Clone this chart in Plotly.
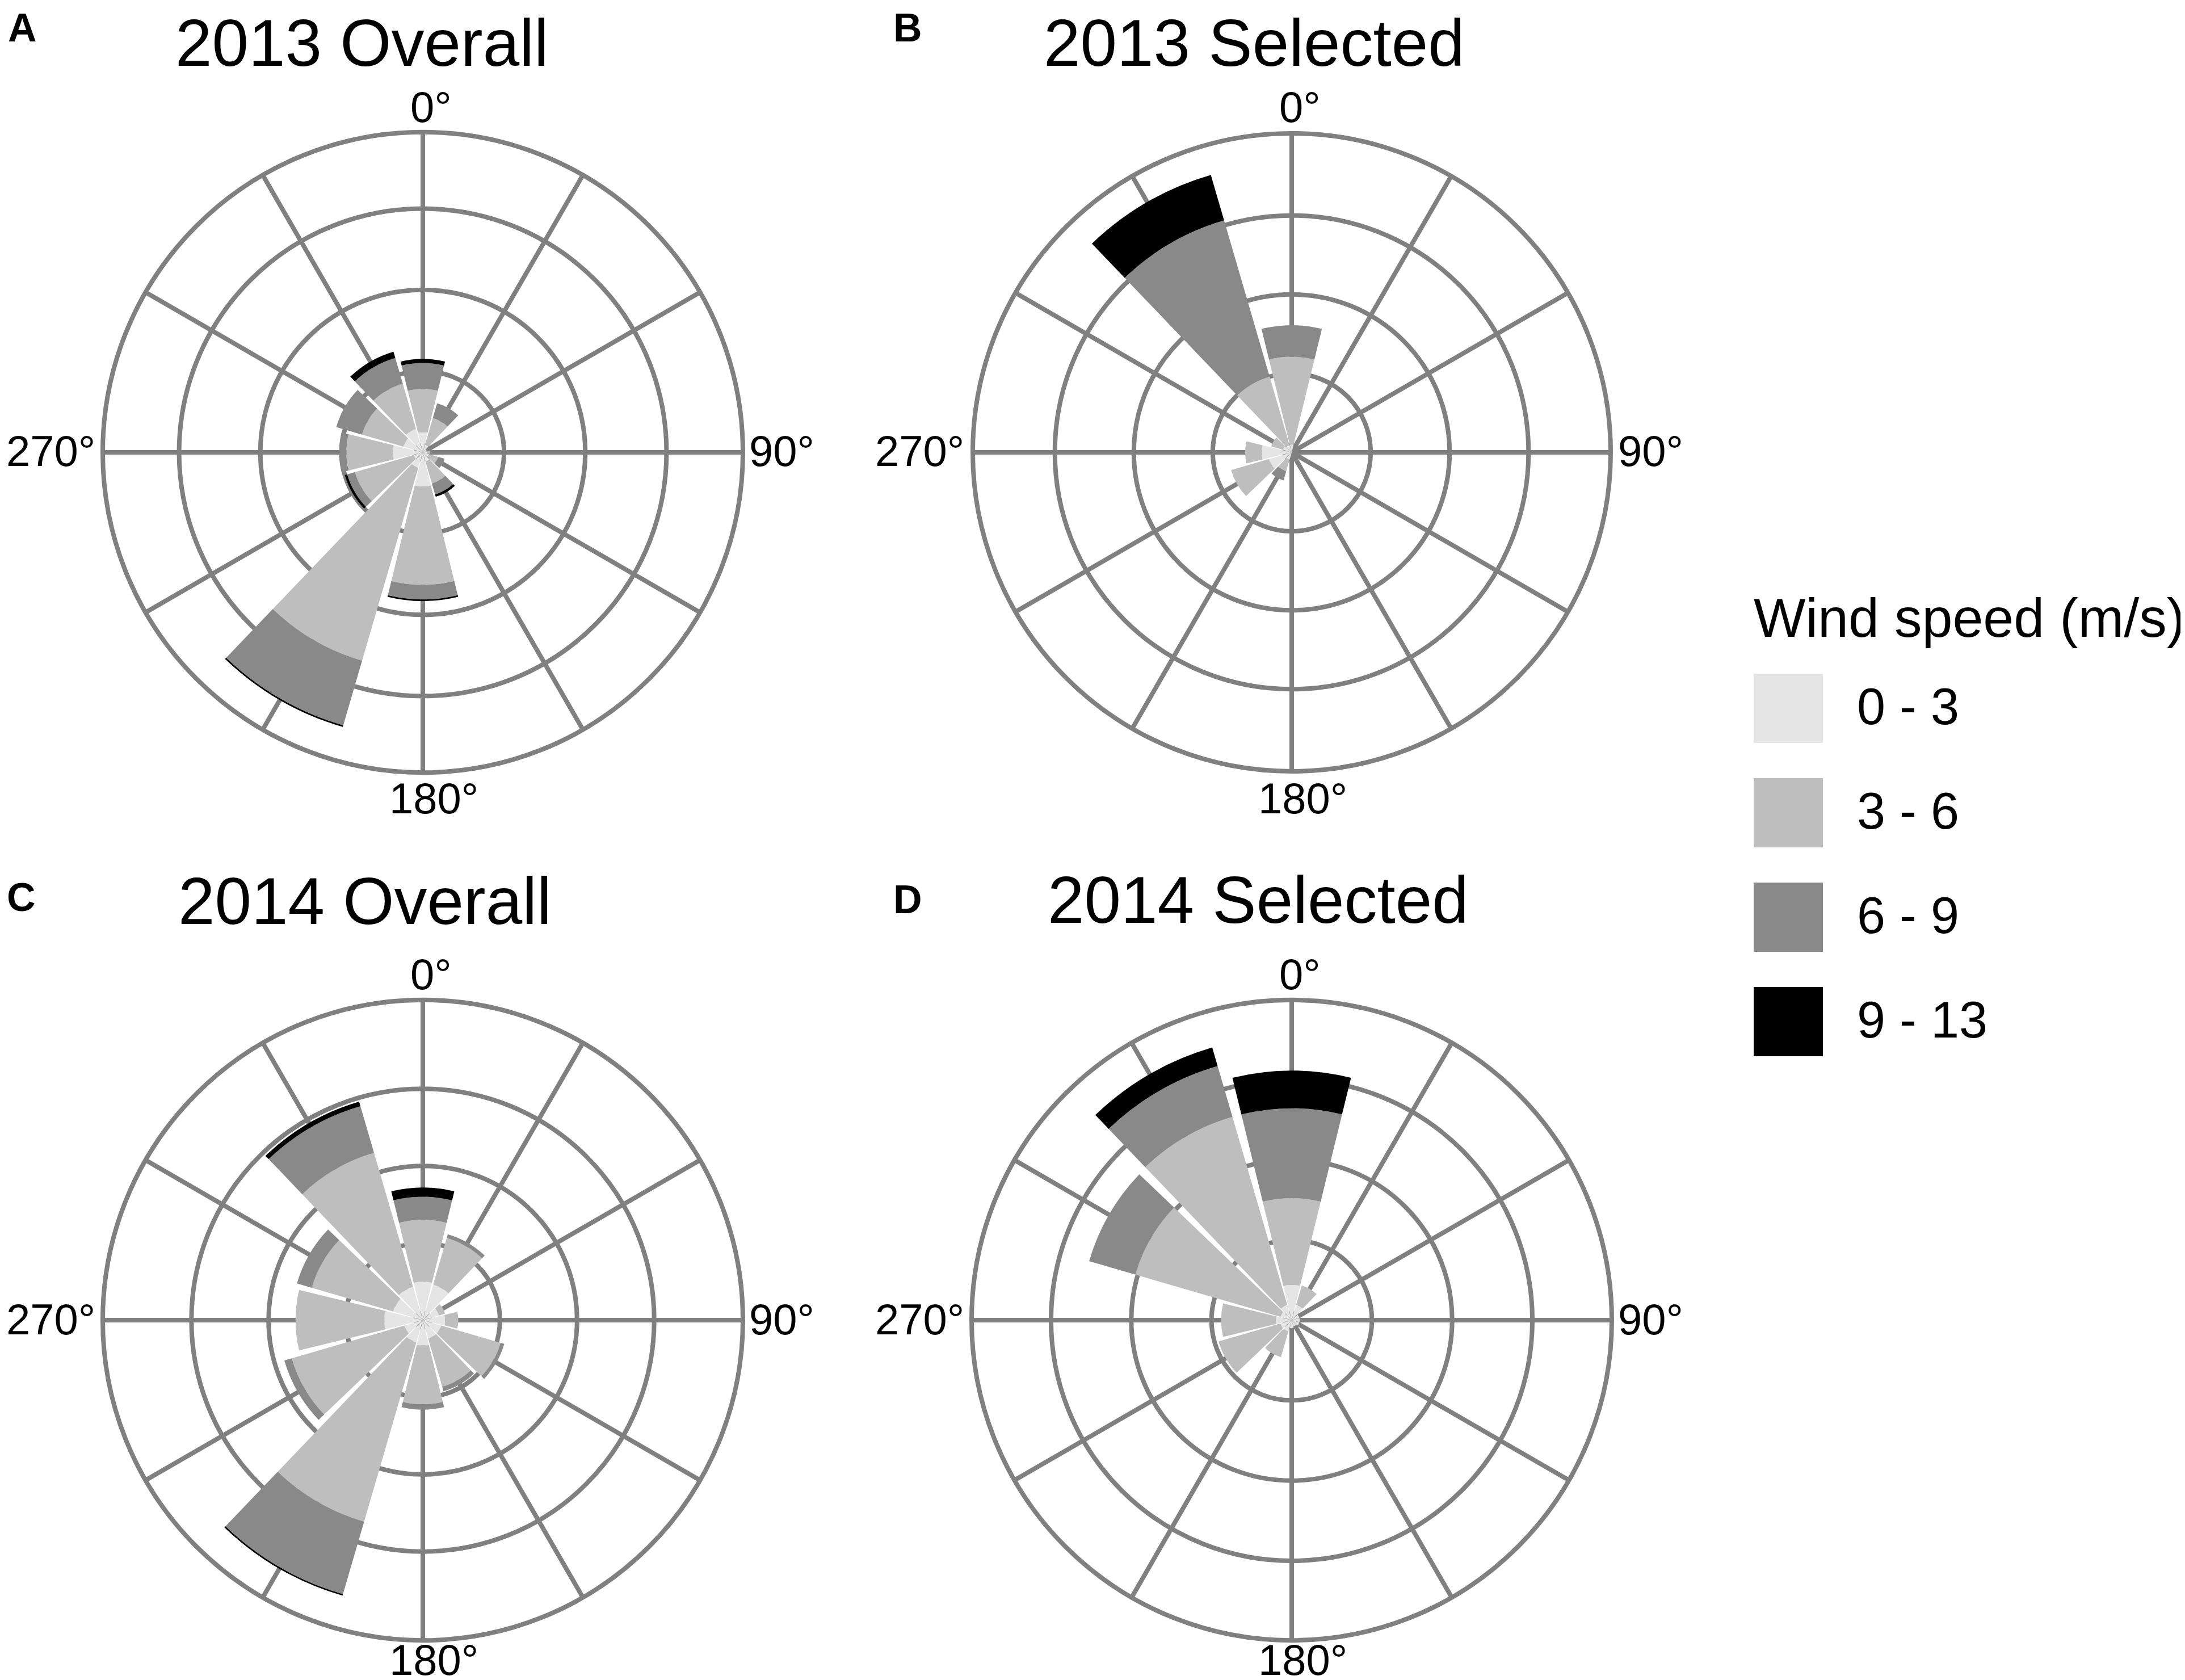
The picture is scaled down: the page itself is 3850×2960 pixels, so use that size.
import plotly.graph_objects as go

W, H = 3850, 2960
FONT = "Liberation Sans, Arial, sans-serif"
GRID = "#808080"

# wind direction bins (degrees, centre of each 30 degree sector)
directions = [0, 30, 60, 90, 120, 150, 180, 210, 240, 270, 300, 330]
angle_labels = ["0°", "", "", "90°", "", "", "180°", "", "", "270°", "", ""]
speed_bins = ["0 - 3", "3 - 6", "6 - 9", "9 - 13"]
bin_colors = ["#e5e5e5", "#bebebe", "#898989", "#000000"]
ring_values = [5, 10, 15]

# frequency (%) per direction, one row per speed bin (0-3, 3-6, 6-9, 9-13)
overall_2013 = [
    [1.25, 0.5, 0.25, 0.25, 0.4, 0.6, 2.1, 1.0, 0.6, 1.85, 1.25, 1.5],
    [2.65, 1.7, 0, 0.2, 0.6, 1.4, 6.05, 12.35, 3.75, 2.85, 2.65, 2.9],
    [1.6, 0.95, 0, 0.15, 0.4, 0.7, 0.9, 4.15, 0.5, 0.45, 1.65, 1.65],
    [0.25, 0, 0, 0, 0, 0.15, 0.1, 0.1, 0.15, 0, 0, 0.4],
]
selected_2013 = [
    [0.5, 0, 0, 0, 0, 0, 0, 0.5, 1.5, 1.9, 0.6, 0.5],
    [5.55, 0, 0, 0, 0, 0, 0, 0.75, 2.5, 1.05, 0.75, 4.5],
    [2.0, 0, 0, 0, 0, 0, 0, 0.6, 0, 0, 0, 10.3],
    [0, 0, 0, 0, 0, 0, 0, 0, 0, 0, 0, 3.0],
]
overall_2014 = [
    [2.5, 2.4, 1.1, 1.45, 1.25, 1.25, 1.65, 1.5, 1.25, 2.5, 2.0, 2.25],
    [4.0, 3.15, 0.4, 0.85, 4.0, 3.25, 3.8, 12.1, 7.6, 5.75, 5.5, 9.05],
    [1.5, 0.25, 0, 0, 0.25, 0.3, 0.35, 4.9, 0.5, 0, 1.0, 3.15],
    [0.6, 0, 0, 0, 0, 0, 0, 0.1, 0, 0, 0, 0.3],
]
selected_2014 = [
    [2.2, 1.0, 0.5, 0.5, 0.5, 0.4, 0.5, 0.75, 0.75, 1.0, 0.75, 1.0],
    [5.4, 1.25, 0, 0, 0, 0, 0, 1.65, 4.0, 3.4, 9.4, 12.2],
    [5.6, 0, 0, 0, 0, 0, 0, 0, 0, 0, 3.0, 3.3],
    [2.35, 0, 0, 0, 0, 0, 0, 0, 0, 0, 0, 1.2],
]

# letter, title, data, radial max, (centre x, centre y, radius px), title pos, letter pos
panels = [
    ("A", "2013 Overall", overall_2013, 19.7, (737, 789, 564), (630, 68), (31, 41)),
    ("B", "2013 Selected", selected_2013, 20.2, (2268, 789, 562), (2202, 68), (1591, 41)),
    ("C", "2014 Overall", overall_2014, 20.75, (737, 2318, 564), (635, 1580), (29, 1573)),
    ("D", "2014 Selected", selected_2014, 19.95, (2268, 2318, 564), (2209, 1578), (1591, 1577)),
]

# where the angle labels sit relative to the circle centre (px), and their anchor
label_offsets = {0: (14, -609, "center"), 90: (573, -2, "left"),
                 180: (19, 609, "center"), 270: (-575, -2, "right")}


def px_x(v):
    return v / W


def px_y(v):
    return 1 - v / H


fig = go.Figure()
layout = {}
annotations = []

for i, (letter, title, data, rmax, (cx, cy, rad), (tx, ty), (lx, ly)) in enumerate(panels):
    subplot = "polar" if i == 0 else f"polar{i + 1}"
    for j, name in enumerate(speed_bins):
        fig.add_trace(go.Barpolar(r=data[j], theta=directions, width=27.5,
                                  name=name, subplot=subplot, showlegend=False,
                                  marker=dict(color=bin_colors[j], line=dict(width=0))))
    layout[subplot] = dict(
        domain=dict(x=[px_x(cx - rad), px_x(cx + rad)], y=[px_y(cy + rad), px_y(cy - rad)]),
        bgcolor="white",
        barmode="stack",
        radialaxis=dict(range=[0, rmax], tickmode="array", tickvals=ring_values,
                        showticklabels=False, ticks="", showline=False,
                        gridcolor=GRID, gridwidth=8),
        angularaxis=dict(direction="clockwise", rotation=90, tickmode="array",
                         tickvals=directions, showticklabels=False, ticks="",
                         showline=True, linecolor=GRID, linewidth=8,
                         gridcolor=GRID, gridwidth=8),
    )
    # angle labels, placed closer to the circle than plotly's own tick labels
    for ang, txt in zip(directions, angle_labels):
        if not txt:
            continue
        dx, dy, anchor = label_offsets[ang]
        ypos = min(cy + dy, H - 44)  # keep the bottom row inside the page
        annotations.append(dict(text=txt, x=px_x(cx + dx), y=px_y(ypos), xref="paper", yref="paper",
                                xanchor=anchor, yanchor="middle", showarrow=False,
                                font=dict(size=76, color="black", family=FONT)))
    annotations.append(dict(text=title, x=px_x(tx), y=px_y(ty), xref="paper", yref="paper",
                            xanchor="center", yanchor="middle", showarrow=False,
                            font=dict(size=116, color="black", family=FONT)))
    annotations.append(dict(text=f"<b>{letter}</b>", x=px_x(lx), y=px_y(ly), xref="paper", yref="paper",
                            xanchor="center", yanchor="middle", showarrow=False,
                            font=dict(size=70, color="black", family=FONT)))

# legend drawn by hand so the keys can be as big as in the original
shapes = []
annotations.append(dict(text="Wind speed (m/s)", x=px_x(3080), y=px_y(1080), xref="paper", yref="paper",
                        xanchor="left", yanchor="middle", showarrow=False,
                        font=dict(size=97, color="black", family=FONT)))
for j, name in enumerate(speed_bins):
    top = 1179 + j * 184
    shapes.append(dict(type="rect", xref="paper", yref="paper",
                       x0=px_x(3082), x1=px_x(3204), y0=px_y(top + 122), y1=px_y(top),
                       fillcolor=bin_colors[j], line=dict(width=0)))
    annotations.append(dict(text=name, x=px_x(3262), y=px_y(top + 58), xref="paper", yref="paper",
                            xanchor="left", yanchor="middle", showarrow=False,
                            font=dict(size=90, color="black", family=FONT)))

fig.update_layout(width=W, height=H, margin=dict(l=0, r=0, t=0, b=0),
                  paper_bgcolor="white", plot_bgcolor="white",
                  font=dict(family=FONT), annotations=annotations, shapes=shapes,
                  **layout)

fig.write_html("out.html")
